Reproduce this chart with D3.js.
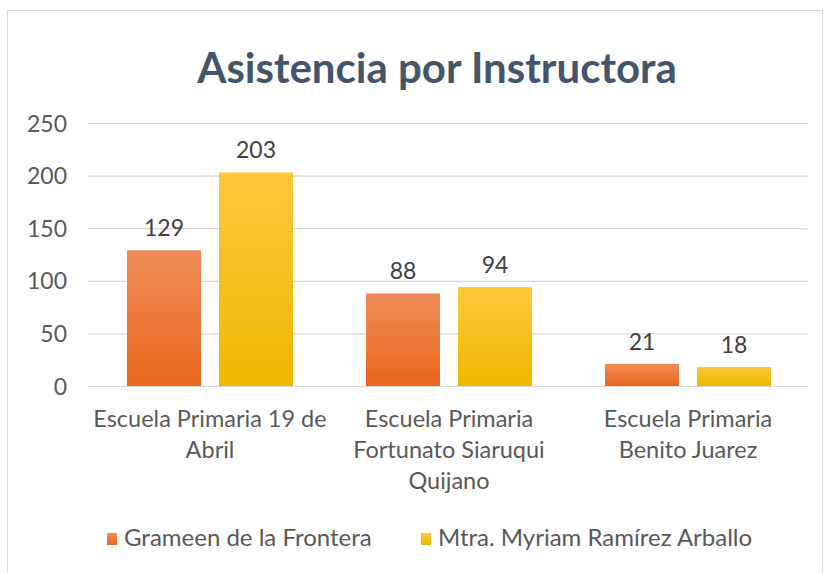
<!DOCTYPE html>
<html><head><meta charset="utf-8">
<script src="https://cdn.jsdelivr.net/npm/d3@7/dist/d3.min.js"></script>
<style>body{margin:0;background:#fff}svg{display:block}</style>
</head><body>
<script>
const categories = [["Escuela Primaria 19 de","Abril"],["Escuela Primaria","Fortunato Siaruqui","Quijano"],["Escuela Primaria","Benito Juarez"]];
const seriesNames = ["Grameen de la Frontera","Mtra. Myriam Ramírez Arballo"];
const grameen = [129, 88, 21];
const myriam = [203, 94, 18];
const yTicks = [0,50,100,150,200,250];

const W=825,H=573;
const svg=d3.select("body").append("svg").attr("width",W).attr("height",H);
const font="Lato, 'Open Sans', sans-serif";
const defs=svg.append("defs");
function grad(id,c1,c2){const g=defs.append("linearGradient").attr("id",id).attr("x1",0).attr("y1",0).attr("x2",0).attr("y2",1);
g.append("stop").attr("offset","0%").attr("stop-color",c1);g.append("stop").attr("offset","100%").attr("stop-color",c2);}
grad("gO","#f08c58","#e8671c");grad("gY","#ffc73a","#eeb700");
const fills=["url(#gO)","url(#gY)"];
svg.append("rect").attr("x",7.5).attr("y",10.5).attr("width",815).attr("height",570).attr("fill","#fff").attr("stroke","#d9d9d9");

const x0=d3.scaleBand().domain(d3.range(categories.length)).range([90.5,807.5]);
const y=d3.scaleLinear().domain([0,250]).range([386,123]);
const bw=74, gap=18;

svg.append("text").attr("x",437).attr("y",83).attr("text-anchor","middle").attr("font-family",font).attr("font-weight","bold").attr("font-size",42).attr("fill","#44546a").text("Asistencia por Instructora");

const yAxis=d3.axisLeft(y).tickValues(yTicks).tickSize(-(807.5-88)).tickPadding(21);
const ga=svg.append("g").attr("transform","translate(88,0)").call(yAxis);
ga.select(".domain").remove();
ga.selectAll(".tick line").attr("stroke","#d9d9d9").attr("stroke-width",1.2);
ga.selectAll(".tick text").attr("font-family",font).attr("font-size",23).attr("fill","#595959").attr("dy","0.35em");

const series=[grameen,myriam];
series.forEach((vals,si)=>{
  const g=svg.append("g");
  vals.forEach((v,i)=>{
    const cx=x0(i)+x0.bandwidth()/2;
    const bx= si===0? cx-gap/2-bw : cx+gap/2;
    g.append("rect").attr("x",bx).attr("y",y(v)).attr("width",bw).attr("height",y(0)-y(v)).attr("fill",fills[si]);
    g.append("text").attr("x",bx+bw/2).attr("y",y(v)-14).attr("text-anchor","middle").attr("font-family",font).attr("font-size",23).attr("fill","#404040").text(v);
  });
});

categories.forEach((lines,i)=>{
  const cx=x0(i)+x0.bandwidth()/2;
  const t=svg.append("text").attr("text-anchor","middle").attr("font-family",font).attr("font-size",23.5).attr("fill","#595959");
  lines.forEach((l,j)=>t.append("tspan").attr("x",cx).attr("y",427+j*31).text(l));
});

const legX=[107,421];
seriesNames.forEach((n,i)=>{
  svg.append("rect").attr("x",legX[i]).attr("y",533).attr("width",10).attr("height",12).attr("fill",fills[i]);
  svg.append("text").attr("x",legX[i]+17).attr("y",546).attr("font-family",font).attr("font-size",24).attr("fill","#595959").text(n);
});
</script>
</body></html>
